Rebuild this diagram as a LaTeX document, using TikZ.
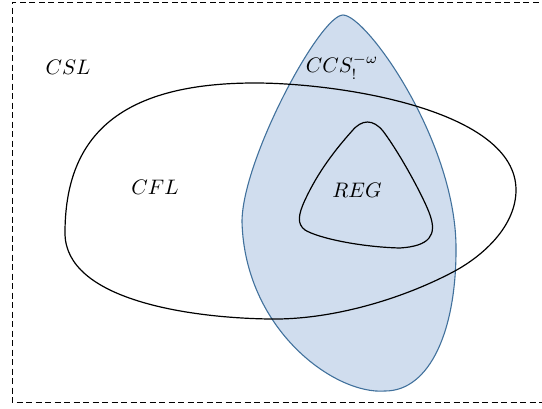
\documentclass[tikz,border=0pt]{standalone}
\usepackage{amsmath}
\usepackage{graphicx}
\definecolor{ccsfill}{HTML}{D0DDEE}
\definecolor{ccsline}{HTML}{41719C}
\newcommand{\biglbl}[1]{\scalebox{2.1}{#1}}
\begin{document}
\begin{tikzpicture}[x=1pt,y=-1pt,
  lbl/.style={inner sep=0pt},
  setline/.style={line width=1.2pt, black}]
\useasboundingbox (0,0) rectangle (542,408);
% CSL universe (dashed frame)
\draw[line width=0.9pt, dash pattern=on 6pt off 3.5pt] (548,2) -- (12,2) -- (12,402) -- (548,402);
% CCS blob
\draw[fill=ccsfill, draw=ccsline, line width=1.1pt]
 (343,15) .. controls (366,15) and (454,138) .. (456,245)
 .. controls (457,330) and (430,391) .. (385,391)
 .. controls (335,395) and (245,330) .. (242,222)
 .. controls (242,160) and (320,15) .. (343,15) -- cycle;
% CFL outline
\draw[setline]
 (65,233) .. controls (65,140) and (115,83) .. (255,83)
 .. controls (340,83) and (516,110) .. (516,190)
 .. controls (516,225) and (485,255) .. (453,272)
 .. controls (400,300) and (330,320) .. (270,319)
 .. controls (190,318) and (65,300) .. (65,233) -- cycle;
% REG outline
\draw[setline]
 (352,131) .. controls (362,119) and (373,119) .. (383,131)
 .. controls (401,155) and (425,200) .. (430,215)
 .. controls (437,235) and (430,246) .. (400,248)
 .. controls (360,247) and (318,238) .. (305,230)
 .. controls (297,224) and (298,215) .. (305,200)
 .. controls (318,172) and (335,150) .. (352,131) -- cycle;
% labels
\node[lbl] (csl) at (68,67) {\biglbl{$CSL$}};
\node[lbl] (ccs) at (342,67) {\biglbl{$CCS_!^{-\omega}$}};
\node[lbl] (cfl) at (155,187) {\biglbl{$CFL$}};
\node[lbl] (reg) at (357,190) {\biglbl{$REG$}};
\end{tikzpicture}
\end{document}
